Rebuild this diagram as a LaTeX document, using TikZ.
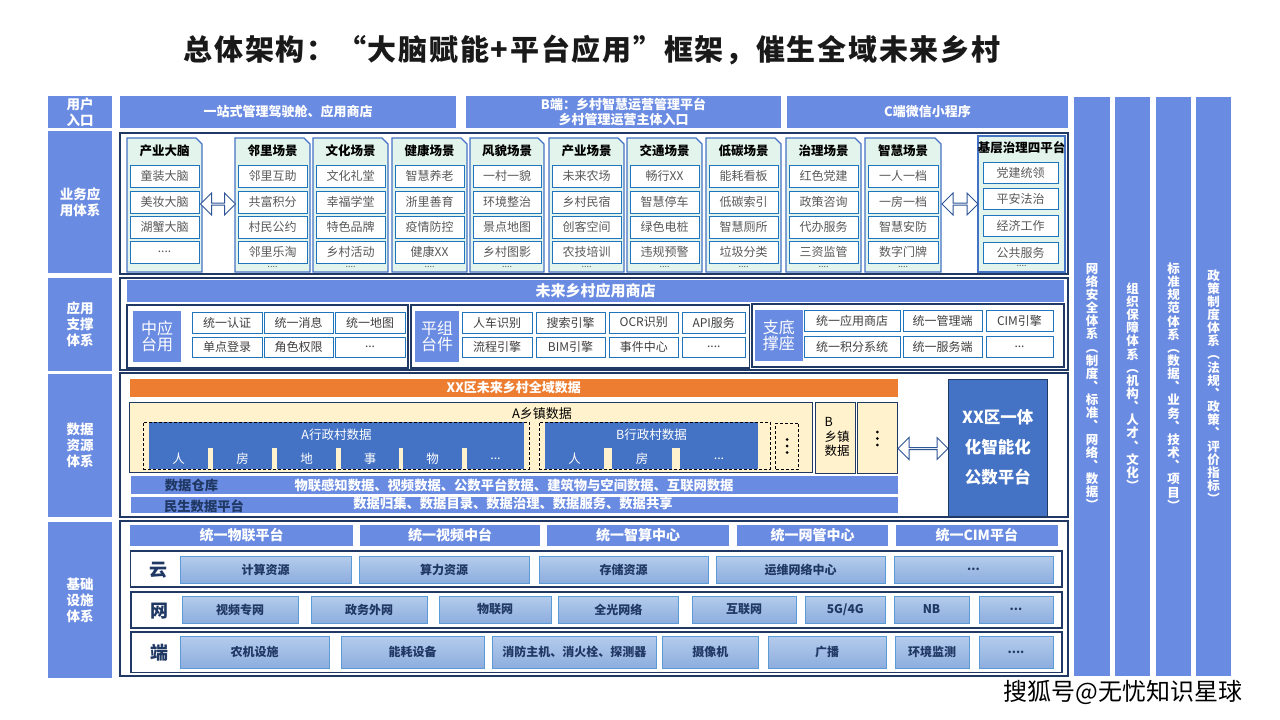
\documentclass[tikz,border=0pt]{standalone}
\usepackage{fontspec}
\setmainfont{Noto Sans CJK SC}
\usetikzlibrary{shapes.arrows}
\definecolor{lblue}{HTML}{6A8BE2}
\definecolor{navy}{HTML}{203864}
\definecolor{sborder}{HTML}{4472C4}
\definecolor{sfill}{HTML}{E2F4EC}
\definecolor{iborder}{HTML}{1F74BE}
\definecolor{itext}{HTML}{595959}
\definecolor{atext}{HTML}{404040}
\definecolor{cream}{HTML}{FFF2CC}
\definecolor{orng}{HTML}{ED7D31}
\definecolor{dblue}{HTML}{4472C4}
\definecolor{ctop}{HTML}{B4CCEC}
\definecolor{cbot}{HTML}{8DADDE}
\definecolor{cborder}{HTML}{5B9BD5}
\definecolor{ctext}{HTML}{1F3864}
\definecolor{arr}{HTML}{2F5597}
\newcommand\fs[2]{\fontsize{#1}{#2}\selectfont}
\newcommand\bx[7]{\node[#6, minimum width={(#4)-(#2)}, minimum height={(#5)-(#3)}] (#1) at ({((#2)+(#4))/2},{((#3)+(#5))/2}) {#7};}
\newcommand\scene[9]{%
 \filldraw[fill=sfill, draw=sborder, line width=1.3pt] (#2,138) -- ({(#3)-6},138) -- (#3,144) -- (#3,272) -- (#2,272) -- cycle;
 \node[stitle] (#1) at ({((#2)+(#3))/2},151) {#4};
 \bx{#1a}{(#2)+3}{165}{(#3)-3}{187}{item}{#5}
 \bx{#1b}{(#2)+3}{191}{(#3)-3}{213}{item}{#6}
 \bx{#1c}{(#2)+3}{216}{(#3)-3}{238}{item}{#7}
 \bx{#1d}{(#2)+3}{241}{(#3)-3}{263}{item}{#8}
 \node[sdots] (#1e) at ({((#2)+(#3))/2},267) {#9};
}
\begin{document}
\begin{tikzpicture}[x=1pt,y=-1pt,
 every node/.style={inner sep=0pt, outer sep=0pt},
 lbl/.style={fill=lblue, text=white, font=\fs{13.5}{16}\bfseries, align=center},
 topbar/.style={fill=lblue, text=white, font=\fs{13}{15.5}\bfseries, align=center},
 frame/.style={draw=navy, line width=1.2pt},
 item/.style={draw=iborder, fill=white, line width=1pt, text=itext, font=\fs{12}{14}},
 stitle/.style={text=black, font=\fs{12.5}{14}\bfseries},
 sdots/.style={text=itext, font=\fs{9}{10}},
 sq/.style={fill=lblue, text=white, font=\fs{16}{16.5}, align=center},
 aitem/.style={draw=iborder, fill=white, line width=1pt, text=atext, font=\fs{12}{14}},
 hbar/.style={fill=lblue, text=white, font=\fs{15}{17}\bfseries},
 obar/.style={fill=orng, text=white, font=\fs{13}{15}\bfseries},
 creambox/.style={fill=cream, draw=navy, line width=1pt},
 dblk/.style={fill=dblue, text=white, font=\fs{12.5}{14}},
 dbox/.style={draw=black, dash pattern=on 3pt off 2pt, line width=0.9pt},
 dbar/.style={fill=lblue},
 ibar/.style={fill=lblue, text=white, font=\fs{14}{16}\bfseries},
 rowframe/.style={draw=navy, line width=1.2pt, fill=white},
 cell/.style={top color=ctop, bottom color=cbot, draw=cborder, line width=1pt, text=ctext, font=\fs{12}{14}\bfseries},
 rowlbl/.style={text=ctext, font=\fs{18}{20}\bfseries},
 vcol/.style={fill=lblue},
 vtext/.style={text=white, font=\fs{12.5}{13.15}\bfseries, align=center},
 dbl/.style={double arrow, draw=arr, fill=white, line width=1pt, double arrow head extend=5pt}
]
\useasboundingbox[fill=white] (0,0) rectangle (1280,720);

% title
\node[font=\fs{29}{31}\bfseries\addfontfeature{LetterSpace=6}, text=black!90] (title) at (592,50) {总体架构：“大脑赋能+平台应用”框架，催生全域未来乡村};

% left labels
\bx{L1}{48}{96}{112}{128}{lbl}{用户\\入口}
\bx{L2}{48}{131}{112}{273}{lbl}{业务应\\用体系}
\bx{L3}{48}{278}{112}{371}{lbl}{应用\\支撑\\体系}
\bx{L4}{48}{374}{112}{517}{lbl}{数据\\资源\\体系}
\bx{L5}{48}{522}{112}{678}{lbl}{基础\\设施\\体系}

% top row
\bx{T1}{120}{96}{456}{128}{topbar}{一站式管理驾驶舱、应用商店}
\bx{T2}{466}{96}{781}{128}{topbar}{B端：乡村智慧运营管理平台\\乡村管理运营主体入口}
\bx{T3}{787}{96}{1068}{128}{topbar}{C端微信小程序}

% business frame
\bx{BF}{120}{133}{1068}{274}{frame}{}
\scene{cyd}{127}{202}{产业大脑}{童装大脑}{美妆大脑}{湖蟹大脑}{....}{}
\scene{lj}{235}{310}{邻里场景}{邻里互助}{共富积分}{村民公约}{邻里乐淘}{....}
\scene{wh}{313}{388}{文化场景}{文化礼堂}{幸福学堂}{特色品牌}{乡村活动}{....}
\scene{jk}{392}{467}{健康场景}{智慧养老}{浙里善育}{疫情防控}{健康XX}{....}
\scene{fm}{470}{544}{风貌场景}{一村一貌}{环境整治}{景点地图}{乡村图影}{....}
\scene{cy}{549}{624}{产业场景}{未来农场}{乡村民宿}{创客空间}{农技培训}{....}
\scene{jt}{627}{702}{交通场景}{畅行XX}{智慧停车}{绿色电桩}{违规预警}{....}
\scene{dt}{706}{781}{低碳场景}{能耗看板}{低碳索引}{智慧厕所}{垃圾分类}{....}
\scene{zl}{786}{861}{治理场景}{红色党建}{政策咨询}{代办服务}{三资监管}{....}
\scene{zh}{865}{941}{智慧场景}{一人一档}{一房一档}{智慧安防}{数字门牌}{....}
\bx{jc}{978}{136}{1065}{272}{fill=sfill, draw=sborder, line width=1.3pt}{}
\node[stitle] (jct) at (1021.5,148) {基层治理四平台};
\bx{jc1}{983}{162}{1058}{183}{item}{党建统领}
\bx{jc2}{983}{188}{1058}{209}{item}{平安法治}
\bx{jc3}{983}{215}{1058}{236}{item}{经济工作}
\bx{jc4}{983}{242}{1058}{263}{item}{公共服务}
\node[sdots] (jcd) at (1021.5,266) {....};
\node[dbl, minimum height=35pt, minimum width=22pt] (arrA) at (218,204) {};
\node[dbl, minimum height=36pt, minimum width=22pt] (arrB) at (960,204) {};

% application support
\bx{AF}{120}{278}{1068}{370}{frame}{}
\bx{AH}{127}{280}{1064}{302}{hbar}{未来乡村应用商店}
\bx{G1}{127}{305}{408}{368}{frame}{}
\bx{G2}{411}{305}{749.5}{368}{frame}{}
\bx{G3}{752}{304}{1064}{367}{frame}{}
\bx{S1}{133}{311}{181}{362}{sq}{中应\\台用}
\bx{S2}{415}{311}{459}{362}{sq}{平组\\台件}
\bx{S3}{755}{309.5}{802.5}{361}{sq}{支底\\撑座}
\bx{a11}{192}{312}{262}{333}{aitem}{统一认证}
\bx{a12}{264}{312}{333}{333}{aitem}{统一消息}
\bx{a13}{335}{312}{405}{333}{aitem}{统一地图}
\bx{a14}{192}{337}{262}{357}{aitem}{单点登录}
\bx{a15}{264}{337}{333}{357}{aitem}{角色权限}
\bx{a16}{335}{337}{405}{357}{aitem}{...}
\bx{b11}{462}{312}{532}{333}{aitem}{人车识别}
\bx{b12}{536}{312}{605}{333}{aitem}{搜索引擎}
\bx{b13}{609}{312}{678.5}{333}{aitem}{OCR识别}
\bx{b14}{682}{312}{745.5}{333}{aitem}{API服务}
\bx{b15}{462}{337}{532}{357}{aitem}{流程引擎}
\bx{b16}{536}{337}{605}{357}{aitem}{BIM引擎}
\bx{b17}{609}{337}{678.5}{357}{aitem}{事件中心}
\bx{b18}{682}{337}{745.5}{357}{aitem}{....}
\bx{c11}{804}{310.5}{900}{331.5}{aitem}{统一应用商店}
\bx{c12}{903}{310.5}{982}{331.5}{aitem}{统一管理端}
\bx{c13}{986}{310.5}{1053}{331.5}{aitem}{CIM引擎}
\bx{c14}{804}{336}{900}{357}{aitem}{统一积分系统}
\bx{c15}{903}{336}{982}{357}{aitem}{统一服务端}
\bx{c16}{986}{336}{1053}{357}{aitem}{...}

% data resources
\bx{DF}{120}{373}{1068}{517}{frame}{}
\bx{OB}{130}{379}{897.5}{397}{obar}{XX区未来乡村全域数据}
\bx{AZ}{129}{402}{812}{472}{creambox}{}
\node[font=\fs{13}{15}, text=black] (AZt) at (542,414) {A乡镇数据};
\bx{AV}{149}{422}{524}{448}{dblk}{A行政村数据}
\bx{AV1}{149}{448}{208}{469}{dblk}{人}
\bx{AV2}{213}{448}{272}{469}{dblk}{房}
\bx{AV3}{277}{448}{336}{469}{dblk}{地}
\bx{AV4}{341}{448}{399}{469}{dblk}{事}
\bx{AV5}{403}{448}{462}{469}{dblk}{物}
\bx{AV6}{467}{448}{524}{469}{dblk}{...}
\bx{AD}{143}{422}{529}{469}{dbox}{}
\bx{BV}{545}{422}{758}{448}{dblk}{B行政村数据}
\bx{BV1}{545}{448}{604}{469}{dblk}{人}
\bx{BV2}{612}{448}{672}{469}{dblk}{房}
\bx{BV3}{680}{448}{758}{469}{dblk}{...}
\bx{BD}{539}{422}{770}{469}{dbox}{}
\bx{VD}{775.5}{423}{798.5}{469}{dbox}{}
\foreach \dy in {-6.5,0,6.5} \fill[black] ([yshift=\dy pt]VD.center) circle (1.5pt);
\bx{BZ}{815.5}{402.5}{855.5}{473.5}{creambox}{}
\node[font=\fs{12.5}{14.5}, text=black, align=left] (BZt) at (837,437) {B\\乡镇\\数据};
\bx{VZ}{857.5}{402.5}{897}{473.5}{creambox}{}
\foreach \dy in {-6.5,0,6.5} \fill[black] ([yshift=\dy pt-0.5pt]VZ.center) circle (1.5pt);
\node[dbl, minimum height=50pt, minimum width=22pt] (arrC) at (923,448.5) {};
\bx{XX}{948}{379.5}{1047.5}{516}{fill=dblue, draw=navy, line width=1pt, text=white, font=\fs{16.5}{30}\bfseries, align=center}{XX区一体\\化智能化\\公数平台}
\bx{WB}{131}{476}{897.5}{494}{dbar}{}
\node[text=ctext, font=\fs{13.3}{15}\bfseries] (WBl) at (191.5,485) {数据仓库};
\node[text=white, font=\fs{13.3}{15}\bfseries] (WBr) at (514,485) {物联感知数据、视频数据、公数平台数据、建筑物与空间数据、互联网数据};
\bx{MB}{131}{497}{897.5}{513}{dbar}{}
\node[text=ctext, font=\fs{13.3}{15}\bfseries] (MBl) at (204,506) {民生数据平台};
\node[text=white, font=\fs{13.3}{15}\bfseries] (MBr) at (513,503.5) {数据归集、数据目录、数据治理、数据服务、数据共享};

% infrastructure
\bx{IF}{120}{521}{1068}{676}{frame}{}
\bx{I1}{130}{525}{353}{546}{ibar}{统一物联平台}
\bx{I2}{360}{525}{540}{546}{ibar}{统一视频中台}
\bx{I3}{547}{525}{729}{546}{ibar}{统一智算中心}
\bx{I4}{737}{525}{888}{546}{ibar}{统一网管中心}
\bx{I5}{895.5}{525}{1058}{546}{ibar}{统一CIM平台}
\bx{RY}{130.5}{551}{1062}{587}{rowframe}{}
\bx{RW}{131}{592}{1062}{628}{rowframe}{}
\bx{RD}{131}{632}{1062}{672.5}{rowframe}{}
\node[rowlbl] (RYl) at (158.5,570) {云};
\node[rowlbl] (RWl) at (159,611) {网};
\node[rowlbl] (RDl) at (159,653) {端};
\bx{y1}{180}{556}{351}{583}{cell}{计算资源}
\bx{y2}{359}{556}{529}{583}{cell}{算力资源}
\bx{y3}{539}{556}{708}{583}{cell}{存储资源}
\bx{y4}{716}{556}{885}{583}{cell}{运维网络中心}
\bx{y5}{894}{556}{1053}{583}{cell}{...}
\bx{w1}{182}{596}{298}{623}{cell}{视频专网}
\bx{w2}{311}{596}{427}{623}{cell}{政务外网}
\bx{w3}{439}{596}{551}{623}{cell}{物联网}
\bx{w4}{558}{596}{678.5}{623}{cell}{全光网络}
\bx{w5}{692}{596}{796}{623}{cell}{互联网}
\bx{w6}{805}{596}{885.5}{623}{cell}{5G/4G}
\bx{w7}{894}{596}{969}{623}{cell}{NB}
\bx{w8}{979}{596}{1053}{623}{cell}{...}
\bx{d1}{180}{636}{329}{668.5}{cell}{农机设施}
\bx{d2}{341}{636}{484}{668.5}{cell}{能耗设备}
\bx{d3}{492}{636}{656.5}{668.5}{cell}{消防主机、消火栓、探测器}
\bx{d4}{662}{636}{758.5}{668.5}{cell}{摄像机}
\bx{d5}{768}{636}{886}{668.5}{cell}{广播}
\bx{d6}{895}{636}{969}{668.5}{cell}{环境监测}
\bx{d7}{979}{636}{1053}{668.5}{cell}{....}

% right vertical columns
\bx{V1}{1074}{97}{1110}{676}{vcol}{}
\bx{V2}{1115}{97}{1150}{676}{vcol}{}
\bx{V3}{1156}{97}{1191}{676}{vcol}{}
\bx{V4}{1196}{97}{1231}{676}{vcol}{}
\node[vtext] (V1t) at (V1.center) {网\\络\\安\\全\\体\\系\\︵\\制\\度\\︑\\标\\准\\︑\\网\\络\\︑\\数\\据\\︶};
\node[vtext] (V2t) at (V2.center) {组\\织\\保\\障\\体\\系\\︵\\机\\构\\︑\\人\\才\\︑\\文\\化\\︶};
\node[vtext] (V3t) at (V3.center) {标\\准\\规\\范\\体\\系\\︵\\数\\据\\︑\\业\\务\\︑\\技\\术\\︑\\项\\目\\︶};
\node[vtext] (V4t) at (V4.center) {政\\策\\制\\度\\体\\系\\︵\\法\\规\\︑\\政\\策\\︑\\评\\价\\指\\标\\︶};

% watermark
\node[font=\fs{24}{26}, text=black] (wm) at (1123,692) {搜狐号@无忧知识星球};
\end{tikzpicture}
\end{document}
